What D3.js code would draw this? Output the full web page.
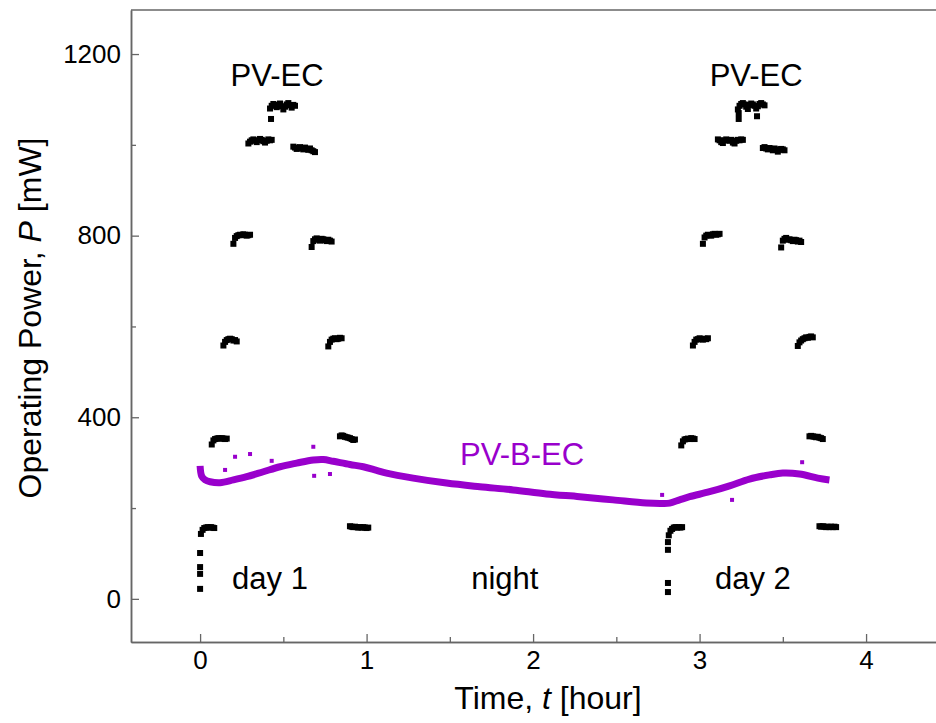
<!DOCTYPE html>
<html><head><meta charset="utf-8">
<script src="https://cdn.jsdelivr.net/npm/d3@7"></script>
<style>
body{margin:0;background:#fff}
svg{display:block}
text{font-family:"Liberation Sans",Arial,sans-serif}
</style>
</head><body>
<svg id="c" width="936" height="723"></svg>
<script>
// ---------- data ----------
const xTicks = [0, 1, 2, 3, 4];
const xMinor = [0.5, 1.5, 2.5, 3.5];
const yTicks = [0, 400, 800, 1200];
const yMinor = [200, 600, 1000];

// PV-EC: logged samples, one every 0.01 h, grouped by irradiance step
const sampleStep = 0.01;
const pvecStart = [0.005, 0.07, 0.14, 0.20, 0.29, 0.42, 0.56, 0.67, 0.77, 0.84, 0.90,
                   2.815, 2.89, 2.96, 3.02, 3.11, 3.23, 3.38, 3.49, 3.59, 3.66, 3.72];
const pvecVals = [
  [143, 152, 156, 157, 158, 157, 158, 157, 156],
  [340, 349, 352, 353, 354, 353, 354, 353, 352, 353],
  [558, 566, 570, 572, 573, 572, 569, 570, 567],
  [782, 795, 799, 801, 802, 801, 803, 802, 800, 801, 802],
  [1003, 1007, 1010, 1012, 1009, 1006, 1010, 1013, 1011, 1008, 1005, 1009, 1012, 1010, 1011],
  [1080, 1086, 1090, 1087, 1083, 1088, 1091, 1085, 1078, 1084, 1089, 1092, 1087, 1082, 1088, 1086],
  [996, 994, 991, 993, 995, 992, 990, 994, 991, 989, 992, 988, 986, 984],
  [775, 788, 792, 794, 791, 789, 793, 792, 790, 788, 791, 789, 787],
  [556, 566, 571, 573, 574, 572, 573, 575, 574],
  [358, 360, 359, 357, 356, 355, 354, 352, 350, 351],
  [160, 159, 158, 159, 158, 157, 158, 157, 158, 157, 156, 157],
  [140, 150, 154, 157, 158, 157, 158, 157, 158],
  [338, 347, 351, 352, 353, 352, 354, 353, 352],
  [558, 566, 571, 572, 574, 572, 571, 573, 572, 574],
  [782, 796, 800, 802, 801, 800, 803, 804, 802, 803, 804],
  [1012, 1010, 1006, 1004, 1010, 1012, 1010, 1009, 1011, 1005, 1003, 1009, 1011, 1010, 1012, 1011],
  [1078, 1086, 1090, 1092, 1089, 1084, 1079, 1088, 1091, 1089, 1086, 1080, 1085, 1090, 1092, 1089, 1087],
  [993, 995, 992, 990, 993, 991, 988, 992, 990, 985, 989, 991, 990, 988],
  [774, 789, 793, 795, 791, 792, 790, 788, 791, 790, 787, 789, 786],
  [557, 565, 569, 572, 574, 576, 575, 577, 578, 576],
  [358, 359, 358, 357, 356, 357, 355, 354, 352],
  [160, 159, 160, 159, 158, 159, 158, 159, 158, 159, 158]
];
const pvecLooseT = [0, 0, 0, 0, 0.426, 2.81, 2.81, 2.81, 2.81, 3.235, 3.235, 3.345];
const pvecLooseP = [101, 70, 55, 22, 1057, 125, 108, 35, 15, 1070, 1057, 1063];

// PV-B-EC: continuous trace
const pvbecT = [0.00, 0.01, 0.03, 0.06, 0.12, 0.20, 0.28, 0.38, 0.48, 0.58, 0.68, 0.74, 0.80, 0.90, 0.98,
                1.06, 1.12, 1.28, 1.48, 1.68, 1.88, 2.08, 2.28, 2.48, 2.68, 2.78, 2.82, 2.88, 2.94,
                3.06, 3.18, 3.30, 3.42, 3.50, 3.60, 3.71, 3.78];
const pvbecP = [293, 270, 262, 258, 256, 262, 269, 280, 291, 299, 306, 307, 303, 296, 291,
                283, 277, 266, 255, 247, 240, 231, 225, 218, 211, 210, 211, 218, 225,
                236, 249, 264, 273, 277, 275, 266, 262];
const pvbecLooseT = [0.15, 0.21, 0.30, 0.43, 0.68, 0.685, 0.78, 2.775, 3.195, 3.616];
const pvbecLooseP = [284, 313, 319, 304, 335, 271, 275, 229, 218, 301];

const annotations = ["PV-EC", "PV-EC", "PV-B-EC", "day 1", "night", "day 2"];

// ---------- drawing ----------
const svg = d3.select("#c");
const x = d3.scaleLinear().domain([-0.415, 4.42]).range([131, 936]);
const y = d3.scaleLinear().domain([-95, 1297]).range([642, 10]);
const axisColor = "#666";
const black = "#000";
const purple = "#9900cc";

// frame top line
svg.append("line").attr("x1", x.range()[0]).attr("x2", x.range()[1])
  .attr("y1", y.range()[1]).attr("y2", y.range()[1])
  .attr("stroke", axisColor).attr("stroke-width", 1.5);

function styleAxis(g) {
  g.select(".domain").attr("stroke", axisColor).attr("stroke-width", 1.5);
  g.selectAll(".tick line").attr("stroke", axisColor).attr("stroke-width", 1.3);
  g.selectAll(".tick text").attr("fill", "#000").style("font-size", "26px")
    .style("font-family", '"Liberation Sans", Arial, sans-serif');
}

const gxMinor = svg.append("g").attr("transform", `translate(0,${y.range()[0]})`)
  .call(d3.axisBottom(x).tickValues(xMinor).tickSize(-5).tickSizeOuter(0).tickFormat(""));
styleAxis(gxMinor);
const gx = svg.append("g").attr("transform", `translate(0,${y.range()[0]})`)
  .call(d3.axisBottom(x).tickValues(xTicks).tickSize(-8).tickSizeOuter(0).tickPadding(9).tickFormat(d3.format("d")));
styleAxis(gx);

const gyMinor = svg.append("g").attr("transform", `translate(${x.range()[0]},0)`)
  .call(d3.axisLeft(y).tickValues(yMinor).tickSize(-5).tickSizeOuter(0).tickFormat(""));
styleAxis(gyMinor);
const gy = svg.append("g").attr("transform", `translate(${x.range()[0]},0)`)
  .call(d3.axisLeft(y).tickValues(yTicks).tickSize(-8).tickSizeOuter(0).tickPadding(10).tickFormat(d3.format("d")));
styleAxis(gy);

// axis titles
const xt = svg.append("text").attr("x", 548).attr("y", 709).attr("text-anchor", "middle")
  .style("font-size", "32px").attr("fill", "#000");
xt.append("tspan").text("Time, ");
xt.append("tspan").attr("font-style", "italic").text("t");
xt.append("tspan").text(" [hour]");

const yt = svg.append("text").attr("transform", "translate(41,318) rotate(-90)")
  .attr("text-anchor", "middle").style("font-size", "32px").attr("fill", "#000");
yt.append("tspan").text("Operating Power, ");
yt.append("tspan").attr("font-style", "italic").text("P");
yt.append("tspan").text(" [mW]");

// PV-B-EC trace
const line = d3.line().x((d, i) => x(pvbecT[i])).y((d, i) => y(pvbecP[i])).curve(d3.curveCatmullRom);
svg.append("path").datum(pvbecP).attr("d", line)
  .attr("fill", "none").attr("stroke", purple).attr("stroke-width", 7).attr("stroke-linecap", "butt");
const ms = 4;
svg.append("g").selectAll("rect").data(pvbecLooseP).join("rect")
  .attr("x", (d, i) => x(pvbecLooseT[i]) - ms / 2).attr("y", d => y(d) - ms / 2)
  .attr("width", ms).attr("height", ms).attr("fill", purple);

// PV-EC samples
const pts = [];
pvecVals.forEach((vals, k) => vals.forEach((v, i) => pts.push({ t: pvecStart[k] + i * sampleStep, p: v })));
pvecLooseP.forEach((v, i) => pts.push({ t: pvecLooseT[i], p: v }));
const bs = 6;
svg.append("g").selectAll("rect").data(pts).join("rect")
  .attr("x", d => x(d.t) - bs / 2).attr("y", d => y(d.p) - bs / 2)
  .attr("width", bs).attr("height", bs).attr("fill", black);

// annotations
const annT = [0.462, 3.34, 1.934, 0.42, 1.83, 3.32];
const annP = [1129, 1129, 295, 22, 22, 22];
svg.append("g").selectAll("text").data(annotations).join("text")
  .attr("x", (d, i) => x(annT[i])).attr("y", (d, i) => y(annP[i]))
  .attr("text-anchor", "middle").style("font-size", "31px")
  .attr("fill", (d, i) => i === 2 ? purple : "#000")
  .text(d => d);
</script>
</body></html>
